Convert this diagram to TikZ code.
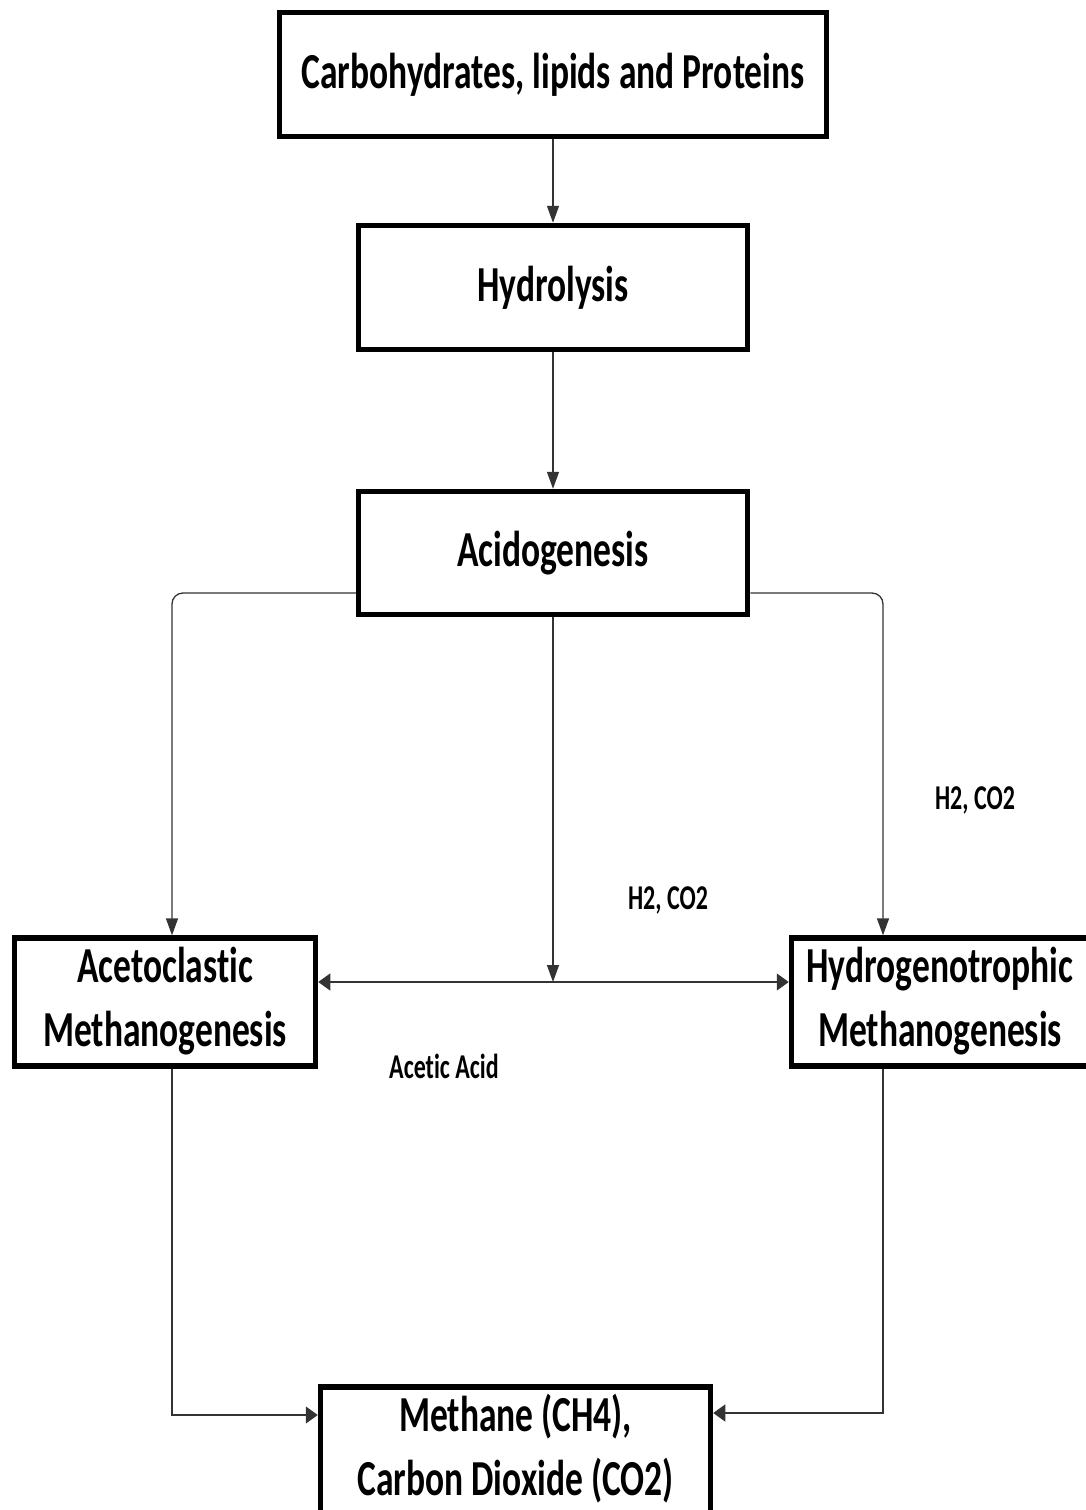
\documentclass[tikz,border=0pt]{standalone}
\usepackage{fontspec}
\setmainfont[Ligatures={NoCommon}]{Carlito}
\usetikzlibrary{arrows.meta}
\tikzset{
  box/.style={draw=black, line width=5.5pt, rectangle, inner sep=0pt, align=center,
    font=\fontsize{35.5pt}{45pt}\selectfont\bfseries},
  conn/.style={draw=black!80, line width=1.3pt},
  vtip/.style={-{Triangle[length=17pt,width=12pt]}},
  htip/.style={-{Triangle[length=12pt,width=17pt]}},
  lbl/.style={inner sep=0pt, font=\fontsize{24pt}{28pt}\selectfont\bfseries}
}
\newcommand{\st}[1]{\scalebox{1}[1.42]{#1}}
\newcommand{\stl}[1]{\scalebox{1}[1.45]{#1}}
\begin{document}
\begin{tikzpicture}[x=1pt,y=-1pt]
\useasboundingbox (0,0) rectangle (1086,1510);
\fill[white] (0,0) rectangle (1086,1510);
\clip (0,0) rectangle (1086,1510);

\node[box, minimum width=547pt, minimum height=124pt] (carb) at (553,74.5)
  {\st{Carbohydrates, lipids and Proteins}};
\node[box, minimum width=389pt, minimum height=124pt] (hyd) at (553,287.5)
  {\st{Hydrolysis}};
\node[box, minimum width=389pt, minimum height=123pt] (acid) at (553,553)
  {\st{Acidogenesis}};
\node[box, minimum width=301pt, minimum height=125pt] (aceto) at (165,1002)
  {\st{\begin{tabular}{@{}c@{}}Acetoclastic\\Methanogenesis\end{tabular}}};
\node[box, minimum width=297pt, minimum height=125pt] (hydro) at (940,1002)
  {\st{\begin{tabular}{@{}c@{}}Hydrogenotrophic\\Methanogenesis\end{tabular}}};
\node[box, minimum width=390pt, minimum height=125pt] (meth) at (515.5,1451)
  {\st{\begin{tabular}{@{}c@{}}Methane (CH4),\\Carbon Dioxide (CO2)\end{tabular}}};

\node[lbl] (l1) at (975,800) {\stl{H2, CO2}};
\node[lbl] (l2) at (668,900) {\stl{H2, CO2}};
\node[lbl] (l3) at (444,1066) {\stl{Acetic Acid}};

\coordinate (mid) at (553,982);

\draw[conn, vtip] (carb.south) -- (hyd.north);
\draw[conn, vtip] (hyd.south) -- (acid.north);
\draw[conn, vtip, rounded corners=11pt] ([yshift=-40pt]acid.west) -| ([xshift=7pt]aceto.north);
\draw[conn, vtip, rounded corners=11pt] ([yshift=-40pt]acid.east) -| ([xshift=-57pt]hydro.north);
\draw[conn, vtip] (acid.south) -- (mid);
\draw[conn, {Triangle[length=12pt,width=17pt]}-{Triangle[length=12pt,width=17pt]}]
  (aceto.east |- mid) -- (hydro.west |- mid);
\draw[conn, htip] ([xshift=7pt]aceto.south) |- ([yshift=36pt]meth.west);
\draw[conn, htip] ([xshift=-57pt]hydro.south) |- ([yshift=38pt]meth.east);
\end{tikzpicture}
\end{document}
